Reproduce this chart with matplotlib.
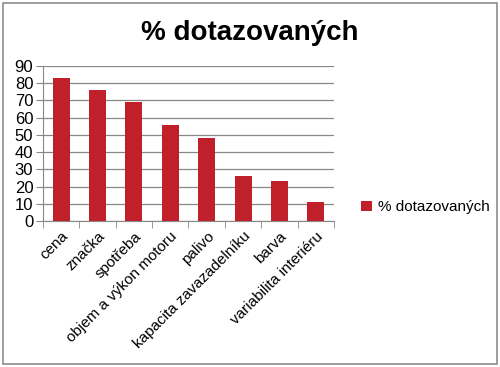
import matplotlib
matplotlib.use("Agg")
import matplotlib.pyplot as plt
import numpy as np
from matplotlib.patches import Rectangle

categories = ["cena", "značka", "spotřeba", "objem a výkon motoru", "palivo",
              "kapacita zavazadelníku", "barva", "variabilita interiéru"]
values = [83, 76, 69, 56, 48, 26, 23, 11]
series_name = "% dotazovaných"
yticks = [0, 10, 20, 30, 40, 50, 60, 70, 80, 90]

plt.rcParams['font.family'] = ['Liberation Sans', 'DejaVu Sans']
fig = plt.figure(figsize=(5, 3.67), dpi=100)
fig.patches.append(Rectangle((0.006, 0.008), 0.987, 0.984, transform=fig.transFigure,
                             fill=False, edgecolor='#8c8c8c', linewidth=1.2))
ax = fig.add_axes([0.086, 0.398, 0.582, 0.422])
x = np.arange(len(categories))
ax.bar(x, values, width=0.47, color='#C0202A', label=series_name, zorder=3)
ax.set_xlim(-0.5, len(categories) - 0.5)
ax.set_ylim(0, 90)
ax.set_yticks(yticks)
ax.tick_params(axis='y', labelsize=12, length=5, color='#888888', pad=2)
ax.grid(axis='y', color='#888888', linewidth=0.9, zorder=0)
ax.set_xticks(x)
ax.set_xticklabels(categories, rotation=45, ha='right', rotation_mode='anchor', fontsize=11)
ax.tick_params(axis='x', length=0, pad=6)
ax.set_xticks(np.arange(-0.5, len(categories)), minor=True)
ax.tick_params(axis='x', which='minor', length=5, color='#888888')
for s in ['top', 'right']:
    ax.spines[s].set_visible(False)
ax.spines['left'].set_color('#888888')
ax.spines['bottom'].set_color('#888888')
fig.text(0.5, 0.91, series_name, ha='center', va='center', fontsize=20, fontweight='bold')
fig.legend(loc='center left', bbox_to_anchor=(0.695, 0.435), frameon=False, fontsize=11,
           handlelength=0.7, handleheight=0.7, handletextpad=0.4)
fig.savefig("out.png", dpi=100)
